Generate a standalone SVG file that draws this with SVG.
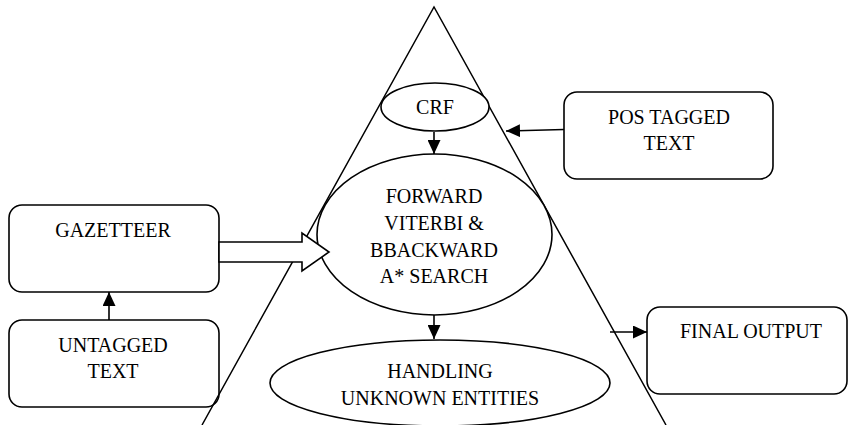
<svg xmlns="http://www.w3.org/2000/svg" width="849" height="425" viewBox="0 0 849 425">
<style>
.box{fill:none;stroke:#000;stroke-width:1.6}
.ell{fill:#fff;stroke:#000;stroke-width:1.6}
.tri{fill:none;stroke:#000;stroke-width:1.5}
.c{stroke:#000;stroke-width:1.6;fill:none}
text{font-family:"Liberation Serif","Times New Roman",serif;font-size:20px;fill:#000;text-anchor:middle}
</style>
<defs>
<marker id="ah" markerUnits="userSpaceOnUse" markerWidth="15" markerHeight="13" refX="14" refY="6.5" orient="auto">
<path d="M0,0 L14,6.5 L0,13 z" fill="#000"/>
</marker>
</defs>
<rect width="849" height="425" fill="#fff"/>
<g id="triangle"><polyline class="tri" points="202,425 434,7 666,425"/></g>
<g id="crf"><ellipse class="ell" cx="435" cy="107" rx="54" ry="24"/><text x="435" y="114">CRF</text></g>
<g id="forward"><ellipse class="ell" cx="434.5" cy="234.5" rx="117.5" ry="80.5"/>
<text x="434" y="203">FORWARD</text><text x="434" y="230">VITERBI &amp;</text><text x="434" y="257">BBACKWARD</text><text x="434" y="283">A* SEARCH</text></g>
<g id="handling"><ellipse class="ell" cx="440" cy="383" rx="170" ry="43"/>
<text x="440" y="378">HANDLING</text><text x="440" y="405">UNKNOWN ENTITIES</text></g>
<g id="pos"><rect class="box" x="564" y="92" width="209" height="87" rx="13"/>
<text x="669" y="124">POS TAGGED</text><text x="669" y="150">TEXT</text></g>
<g id="gazetteer"><rect class="box" x="9" y="205" width="210" height="87" rx="13"/>
<text x="113" y="237">GAZETTEER</text></g>
<g id="untagged"><rect class="box" x="9" y="320" width="210" height="87" rx="13"/>
<text x="113" y="352">UNTAGGED</text><text x="113" y="378">TEXT</text></g>
<g id="final"><rect class="box" x="647" y="307" width="200" height="87" rx="13"/>
<text x="751" y="338">FINAL OUTPUT</text></g>
<g id="connectors">
<line class="c" x1="434" y1="132" x2="434" y2="154" marker-end="url(#ah)"/>
<line class="c" x1="434" y1="315" x2="434" y2="339" marker-end="url(#ah)"/>
<line class="c" x1="564" y1="129.5" x2="506" y2="131" marker-end="url(#ah)"/>
<line class="c" x1="109" y1="320" x2="109" y2="292" marker-end="url(#ah)"/>
<line class="c" x1="610" y1="332" x2="647" y2="332" marker-end="url(#ah)"/>
<polygon points="219,242 302,242 302,233 329,252 302,271 302,262 219,262" fill="#fff" stroke="#000" stroke-width="1.6"/>
</g>
</svg>
